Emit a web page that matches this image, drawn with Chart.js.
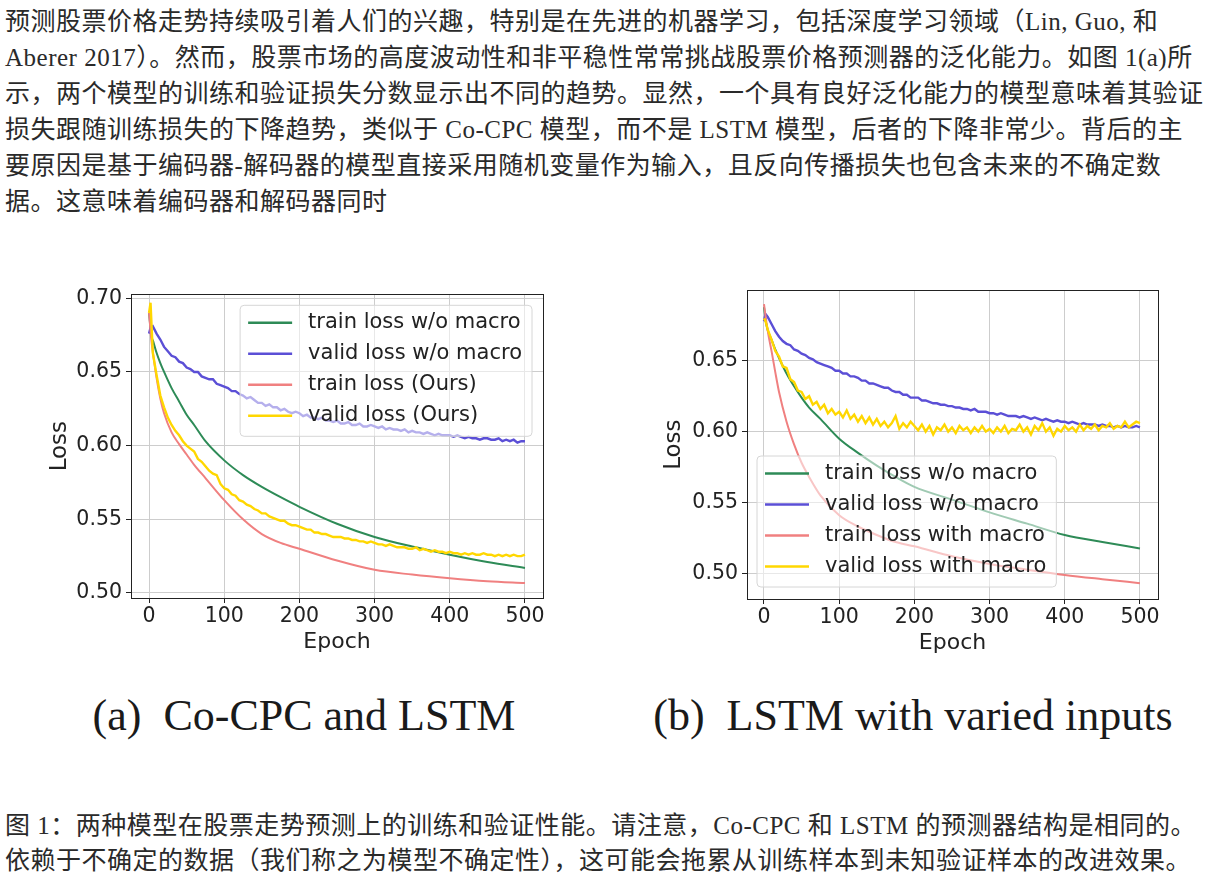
<!DOCTYPE html>
<html lang="zh">
<head>
	<meta charset="utf-8">
	<title>Figure 1</title>
	<style>
body {
	margin: 0;
	background: #fff;
	width: 1209px;
	height: 890px;
	position: relative;
	overflow: hidden;
}
.para {
	position: absolute;
	left: 5px;
	font-family: "Liberation Serif", "Noto Sans CJK SC", serif;
	font-size: 25px;
	letter-spacing: 0.5px;
	color: #2a2a2a;
	white-space: nowrap;
}
.para div { height: 36px; line-height: 36px; }
.cap div { height: 35px; line-height: 35px; }
.sub {
	position: absolute;
	font-family: "Liberation Serif", serif;
	font-size: 44px;
	color: #1a1a1a;
	white-space: nowrap;
	transform: translateX(-50%);
}
.chartBox { position: absolute; }
	</style>
</head>
<body>

<div class="para" style="top:4px">
	<div>预测股票价格走势持续吸引着人们的兴趣，特别是在先进的机器学习，包括深度学习领域（Lin, Guo, 和</div>
	<div>Aberer 2017）。然而，股票市场的高度波动性和非平稳性常常挑战股票价格预测器的泛化能力。如图 1(a)所</div>
	<div>示，两个模型的训练和验证损失分数显示出不同的趋势。显然，一个具有良好泛化能力的模型意味着其验证</div>
	<div>损失跟随训练损失的下降趋势，类似于 Co-CPC 模型，而不是 LSTM 模型，后者的下降非常少。背后的主</div>
	<div>要原因是基于编码器-解码器的模型直接采用随机变量作为输入，且反向传播损失也包含未来的不确定数</div>
	<div>据。这意味着编码器和解码器同时</div>
</div>

<div class="chartBox" style="left:40px;top:278px;width:515px;height:382px"><canvas id="chartA"></canvas></div>
<div class="chartBox" style="left:650px;top:274px;width:520px;height:387px"><canvas id="chartB"></canvas></div>

<div class="sub" style="left:304px;top:690px">(a)&nbsp; Co-CPC and LSTM</div>
<div class="sub" style="left:913px;top:690px">(b)&nbsp; LSTM with varied inputs</div>

<div class="para cap" style="top:808px">
	<div>图 1：两种模型在股票走势预测上的训练和验证性能。请注意，Co-CPC 和 LSTM 的预测器结构是相同的。</div>
	<div>依赖于不确定的数据（我们称之为模型不确定性），这可能会拖累从训练样本到未知验证样本的改进效果。</div>
</div>

<script src="https://cdn.jsdelivr.net/npm/chart.js"></script>
<script>
// epochs for the smooth training curves
const smoothEpochs = [0, 3, 6, 10, 15, 20, 30, 40, 50, 60, 75, 100, 125, 150, 175, 200, 250, 300, 350, 400, 450, 500];
// epochs for the noisy validation curves
const noisyEpochs = [0, 2, 5, 10, 15, 20, 25, 30, 35, 40, 45,
	50, 55, 60, 65, 70, 75, 80, 85, 90, 95,
	100, 105, 110, 115, 120, 125, 130, 135, 140, 145,
	150, 155, 160, 165, 170, 175, 180, 185, 190, 195,
	200, 205, 210, 215, 220, 225, 230, 235, 240, 245,
	250, 255, 260, 265, 270, 275, 280, 285, 290, 295,
	300, 305, 310, 315, 320, 325, 330, 335, 340, 345,
	350, 355, 360, 365, 370, 375, 380, 385, 390, 395,
	400, 405, 410, 415, 420, 425, 430, 435, 440, 445,
	450, 455, 460, 465, 470, 475, 480, 485, 490, 495,
	500];

const xTicks = [0, 100, 200, 300, 400, 500];
const yTicksA = [0.50, 0.55, 0.60, 0.65, 0.70];
const yTicksB = [0.50, 0.55, 0.60, 0.65];

const namesA = ['train loss w/o macro', 'valid loss w/o macro', 'train loss (Ours)', 'valid loss (Ours)'];
const namesB = ['train loss w/o macro', 'valid loss w/o macro', 'train loss with macro', 'valid loss with macro'];

// (a) Co-CPC and LSTM
const trainA = [.690, .675, .670, .663, .656, .650, .639, .630, .621, .614, .603, .590, .580, .572, .565, .5585, .547, .538, .5315, .526, .521, .517];
const validA = [.676, .680, .681, .676, .672, .667, .664, .661, .660, .657, .656,
	.653, .652, .650, .650, .647, .646, .645, .645, .642, .641,
	.640, .639, .637, .637, .635, .634, .632, .633, .631, .629,
	.629, .627, .628, .626, .626, .624, .625, .623, .622, .623,
	.622, .620, .621, .619, .619, .618, .619, .617, .617, .616,
	.617, .615, .615, .616, .614, .614, .615, .613, .613, .614,
	.613, .612, .613, .611, .612, .611, .611, .610, .611, .609,
	.610, .609, .609, .608, .609, .608, .607, .608, .607, .607,
	.607, .606, .607, .606, .605, .606, .605, .605, .604, .605,
	.605, .604, .604, .605, .603, .604, .603, .604, .602, .603,
	.603];
const trainOursA = [.690, .672, .660, .646, .632, .622, .609, .601, .594, .587, .578, .563, .550, .540, .534, .530, .522, .5157, .5125, .510, .508, .5067];
const validOursA = [.690, .697, .663, .648, .634, .626, .619, .614, .610, .607, .603,
	.600, .598, .596, .591, .589, .586, .583, .581, .580, .574,
	.571, .570, .567, .566, .563, .562, .560, .559, .557, .556,
	.554, .554, .552, .551, .550, .549, .549, .547, .546, .546,
	.545, .544, .543, .543, .541, .541, .540, .540, .539, .538,
	.538, .538, .537, .537, .536, .536, .535, .535, .534, .535,
	.534, .533, .533, .532, .533, .532, .531, .531, .531, .530,
	.530, .531, .529, .530, .529, .528, .529, .528, .528, .527,
	.528, .527, .527, .526, .527, .526, .527, .526, .526, .527,
	.526, .526, .525, .526, .525, .526, .525, .526, .525, .525,
	.526];

// (b) LSTM with varied inputs
const trainB = [.688, .676, .670, .665, .658, .652, .641, .632, .624, .617, .609, .595, .585, .576, .568, .561, .552, .543, .535, .527, .522, .5175];
const validB = [.678, .683, .681, .676, .671, .667, .664, .662, .661, .658, .657,
	.655, .654, .652, .651, .649, .648, .647, .646, .645, .643,
	.643, .641, .641, .639, .639, .638, .636, .636, .634, .634,
	.633, .632, .631, .631, .629, .628, .628, .626, .626, .624,
	.624, .624, .622, .622, .621, .620, .620, .619, .619, .618,
	.618, .617, .617, .616, .616, .615, .616, .614, .614, .614,
	.613, .613, .612, .613, .612, .611, .611, .611, .610, .611,
	.610, .609, .610, .609, .608, .609, .608, .607, .608, .607,
	.607, .606, .607, .606, .605, .606, .605, .605, .605, .604,
	.605, .604, .604, .603, .604, .603, .604, .603, .603, .604,
	.603];
const trainMacroB = [.690, .678, .668, .657, .642, .628, .607, .591, .578, .568, .555, .541, .533, .527, .522, .519, .512, .5065, .5025, .4988, .4958, .493];
const validMacroB = [.680, .678, .672, .665, .657, .653, .646, .645, .637, .635, .629,
	.628, .623, .625, .619, .621, .616, .619, .613, .616, .612,
	.614, .610, .615, .609, .612, .607, .611, .606, .610, .605,
	.609, .604, .607, .603, .606, .611, .602, .606, .603, .607,
	.604, .601, .605, .600, .604, .598, .603, .601, .605, .600,
	.603, .599, .604, .601, .603, .599, .603, .600, .604, .600,
	.602, .599, .603, .600, .604, .599, .602, .601, .605, .600,
	.603, .598, .604, .601, .606, .600, .603, .597, .602, .600,
	.604, .601, .603, .600, .605, .601, .604, .602, .605, .601,
	.604, .603, .606, .602, .604, .603, .607, .603, .605, .607,
	.606];

const colors = ['#2e8b57', '#5b4fd6', '#f08080', '#ffd700'];
const ink = '#222';

Chart.defaults.font.family = '"DejaVu Sans", sans-serif';
Chart.defaults.color = ink;

function pts(xs, ys) {
	return xs.map((x, i) => ({x: x, y: ys[i]}));
}

function makeSets(names, series) {
	return series.map((s, i) => ({
		label: names[i],
		data: pts(s.epochs, s.values),
		borderColor: colors[i],
		borderWidth: s.smooth ? 2 : 2.4,
		pointRadius: 0,
		fill: false,
		cubicInterpolationMode: s.smooth ? 'monotone' : 'default',
		tension: 0,
		order: 4 - i
	}));
}

// legend drawn inside the plot, matplotlib style
const boxLegend = {
	id: 'boxLegend',
	afterDatasetsDraw(chart, args, opts) {
		const ctx = chart.ctx, a = chart.chartArea;
		const sets = chart.data.datasets;
		ctx.save();
		ctx.font = '21px "DejaVu Sans"';
		const tw = Math.max(...sets.map(d => ctx.measureText(d.label).width));
		const row = 31;
		const w = tw + 78, h = 131;
		const x = opts.corner === 'ur' ? a.right - 11 - w : a.left + 10;
		const y = opts.corner === 'ur' ? a.top + 11 : a.bottom - 12 - h;
		ctx.beginPath();
		ctx.roundRect(x, y, w, h, 4);
		ctx.fillStyle = 'rgba(255,255,255,0.55)';
		ctx.fill();
		ctx.strokeStyle = '#d6d6d6';
		ctx.lineWidth = 1;
		ctx.stroke();
		sets.forEach((d, i) => {
			const cy = y + 17.5 + i * row;
			ctx.strokeStyle = d.borderColor;
			ctx.lineWidth = 2.5;
			ctx.beginPath();
			ctx.moveTo(x + 8, cy);
			ctx.lineTo(x + 52, cy);
			ctx.stroke();
			ctx.fillStyle = ink;
			ctx.textBaseline = 'middle';
			ctx.fillText(d.label, x + 68, cy);
		});
		ctx.restore();
	},
	afterDraw(chart) {
		const ctx = chart.ctx, a = chart.chartArea;
		ctx.save();
		ctx.strokeStyle = ink;
		ctx.lineWidth = 1;
		ctx.strokeRect(Math.round(a.left) + 0.5, Math.round(a.top) + 0.5, Math.round(a.width), Math.round(a.height));
		ctx.restore();
	}
};

function makeChart(id, sets, cfg) {
	new Chart(document.getElementById(id), {
		type: 'line',
		data: {datasets: sets},
		plugins: [boxLegend],
		options: {
			responsive: true,
			maintainAspectRatio: false,
			animation: false,
			layout: {padding: {top: 0, right: 12, left: 0, bottom: 0}},
			plugins: {
				legend: {display: false},
				tooltip: {enabled: false},
				boxLegend: {corner: cfg.corner}
			},
			scales: {
				x: {
					type: 'linear',
					min: cfg.xMin, max: cfg.xMax,
					afterFit: s => { s.height = 62; },
					afterBuildTicks: s => { s.ticks = xTicks.map(v => ({value: v})); },
					ticks: {font: {size: 20.5}, color: ink, padding: 1, maxRotation: 0},
					grid: {color: '#cdcdcd', lineWidth: 1, tickColor: ink, tickLength: 5, tickWidth: 1},
					border: {color: ink, width: 1},
					title: {display: true, text: 'Epoch', font: {size: 22}, color: ink, padding: {top: 0, bottom: 5}}
				},
				y: {
					type: 'linear',
					min: cfg.yMin, max: cfg.yMax,
					afterFit: s => { s.width = cfg.yWidth; },
					afterBuildTicks: s => { s.ticks = cfg.yTicks.map(v => ({value: v})); },
					ticks: {font: {size: 20.5}, color: ink, padding: 4, callback: v => v.toFixed(2)},
					grid: {color: '#cdcdcd', lineWidth: 1, tickColor: ink, tickLength: 5, tickWidth: 1},
					border: {color: ink, width: 1},
					title: {display: true, text: 'Loss', font: {size: 23}, color: ink, padding: {top: cfg.titlePad, bottom: 0}}
				}
			}
		}
	});
}

makeChart('chartA', makeSets(namesA, [
	{epochs: smoothEpochs, values: trainA, smooth: true},
	{epochs: noisyEpochs, values: validA},
	{epochs: smoothEpochs, values: trainOursA, smooth: true},
	{epochs: noisyEpochs, values: validOursA}
]), {corner: 'ur', xMin: -24, xMax: 524, yMin: 0.4966, yMax: 0.7027, yTicks: yTicksA, yWidth: 91, titlePad: 6});

makeChart('chartB', makeSets(namesB, [
	{epochs: smoothEpochs, values: trainB, smooth: true},
	{epochs: noisyEpochs, values: validB},
	{epochs: smoothEpochs, values: trainMacroB, smooth: true},
	{epochs: noisyEpochs, values: validMacroB}
]), {corner: 'll', xMin: -22.6, xMax: 524, yMin: 0.4818, yMax: 0.6998, yTicks: yTicksB, yWidth: 97, titlePad: 10});
</script>
</body>
</html>
